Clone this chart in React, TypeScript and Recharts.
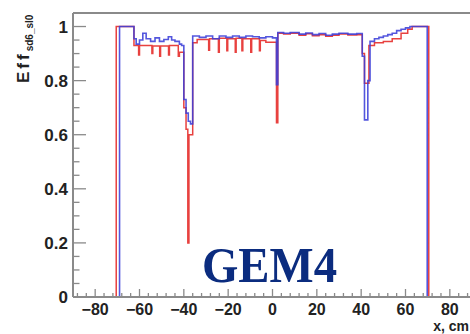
import { LineChart, Line, XAxis, YAxis, ReferenceLine, Customized } from 'recharts';

// bin edges (cm) and efficiencies, drawn as step histograms
const blueX = [
  -90, -69, -62.5, -61.5, -60, -58.5, -57, -55, -53, -51, -49, -47, -45.5, -44, -42, -41,
  -40, -39, -38, -37, -36, -33, -30, -27, -24, -21, -18, -15, -12, -9, -6, -3, 0,
  1.8, 2.4, 5, 8, 12, 15, 18, 21, 24, 27, 30, 34, 38,
  40.5, 41.5, 43, 44, 46, 48, 50, 52, 54, 56, 58, 60, 62, 69.8, 90,
];
const blueEff = [
  0, 1.0, 0.955, 0.935, 0.95, 0.975, 0.955, 0.945, 0.958, 0.945, 0.952, 0.962, 0.95, 0.945, 0.935, 0.93,
  0.73, 0.68, 0.65, 0.64, 0.965, 0.96, 0.965, 0.955, 0.965, 0.96, 0.965, 0.96, 0.965, 0.962, 0.958, 0.962, 0.958,
  0.785, 0.978, 0.975, 0.978, 0.972, 0.976, 0.97, 0.974, 0.968, 0.972, 0.975, 0.972, 0.974,
  0.89, 0.655, 0.8, 0.945, 0.955, 0.96, 0.965, 0.97, 0.975, 0.985, 0.99, 0.995, 1.0, 0, 0,
];

const redX = [
  -90, -70.5, -62.5, -60.4, -60, -54.4, -54, -50.9, -50.5, -46.9, -46.5, -42.5, -42,
  -40, -39, -38.2, -37.7, -36, -34, -28.8, -28.4, -24.4, -24, -20.6, -20.2, -16.8, -16.4,
  -13.8, -13.4, -9.8, -9.4, -5.9, -5.5, -3,
  1.8, 2.4, 5, 8, 12, 15, 18, 21, 24, 27, 30, 34, 38,
  40.5, 41.5, 43.5, 46, 50, 54, 58, 61, 63, 70.5, 90,
];
const redEff = [
  0, 1.0, 0.93, 0.895, 0.93, 0.9, 0.928, 0.89, 0.928, 0.895, 0.93, 0.89, 0.905,
  0.7, 0.62, 0.2, 0.6, 0.94, 0.952, 0.912, 0.955, 0.905, 0.957, 0.91, 0.955, 0.905, 0.957,
  0.91, 0.955, 0.905, 0.955, 0.91, 0.948, 0.942,
  0.644, 0.975, 0.972, 0.975, 0.968, 0.973, 0.966, 0.97, 0.964, 0.968, 0.972, 0.969, 0.97,
  0.9, 0.79, 0.93, 0.94, 0.945, 0.955, 0.975, 0.99, 1.0, 0, 0,
];

const xMajor = [-80, -60, -40, -20, 0, 20, 40, 60, 80];
const xTicks = [
  -88, -84, -80, -76, -72, -68, -64, -60, -56, -52, -48, -44, -40, -36, -32, -28, -24, -20, -16, -12, -8, -4,
  0, 4, 8, 12, 16, 20, 24, 28, 32, 36, 40, 44, 48, 52, 56, 60, 64, 68, 72, 76, 80, 84, 88,
];
const yMajor = [0, 0.2, 0.4, 0.6, 0.8, 1];
const yTicks = [
  0, 0.05, 0.1, 0.15, 0.2, 0.25, 0.3, 0.35, 0.4, 0.45, 0.5, 0.55, 0.6, 0.65, 0.7, 0.75, 0.8, 0.85, 0.9, 0.95, 1,
];

const blueData = blueX.map((x, i) => ({ x, eff: blueEff[i] }));
const redData = redX.map((x, i) => ({ x, eff: redEff[i] }));

const AXIS = '#8a8a8a';
const LABEL = '#222';
const SANS = '"Liberation Sans", Arial, sans-serif';

const fmt = (v: number) => (v < 0 ? '\u2212' + Math.abs(v) : String(v));

function XTick(props: any) {
  const { x, y, payload } = props;
  const major = xMajor.includes(payload.value);
  return (
    <g>
      <line x1={x} x2={x} y1={y} y2={y - (major ? 8 : 4)} stroke={AXIS} strokeWidth={1.3} />
      {major && (
        <text x={x} y={y + 17.5} textAnchor="middle" fontFamily={SANS} fontWeight="bold" fontSize={16} fill={LABEL}>
          {fmt(payload.value)}
        </text>
      )}
    </g>
  );
}

function YTick(props: any) {
  const { x, y, payload } = props;
  const major = yMajor.includes(payload.value);
  return (
    <g>
      <line x1={x} x2={x + (major ? 13 : 6.5)} y1={y} y2={y} stroke={AXIS} strokeWidth={1.3} />
      {major && (
        <text x={x - 5} y={y + 6} textAnchor="end" fontFamily={SANS} fontWeight="bold" fontSize={17} fill={LABEL}>
          {String(payload.value)}
        </text>
      )}
    </g>
  );
}

function Titles() {
  return (
    <g>
      <text transform="translate(29,83) rotate(-90)" fontFamily={SANS} fontWeight="bold" fill={LABEL}>
        <tspan fontSize={17} letterSpacing={3}>Eff</tspan>
        <tspan fontSize={10} dy={4}>sd6_sl0</tspan>
      </text>
      <text x={469} y={331} textAnchor="end" fontFamily={SANS} fontWeight="bold" fontSize={14} fill={LABEL}>
        x, cm
      </text>
      <text
        x={202}
        y={282}
        fontFamily='"Liberation Serif", "Times New Roman", serif'
        fontWeight="bold"
        fontSize={50}
        fill="#0b2c7f"
        textLength={135}
        lengthAdjust="spacingAndGlyphs"
      >
        GEM4
      </text>
    </g>
  );
}

export default function App() {
  return (
    <div style={{ position: 'absolute', left: 0, top: 0, background: '#fff' }}>
      <LineChart width={470} height={334} margin={{ top: 13, right: -2, bottom: 0, left: 0 }}>
        <XAxis
          dataKey="x"
          type="number"
          domain={[-90, 90]}
          ticks={xTicks}
          interval={0}
          tickLine={false}
          tickSize={0}
          tickMargin={0}
          tick={<XTick />}
          height={37}
          axisLine={{ stroke: AXIS, strokeWidth: 2 }}
        />
        <YAxis
          type="number"
          domain={[0, 1.05]}
          ticks={yTicks}
          interval={0}
          tickLine={false}
          tickSize={0}
          tickMargin={0}
          tick={<YTick />}
          width={73}
          axisLine={{ stroke: AXIS, strokeWidth: 2 }}
        />
        <ReferenceLine y={1.05} stroke={AXIS} strokeWidth={2} />
        <ReferenceLine x={90} stroke={AXIS} strokeWidth={2} />
        <Line
          data={redData}
          dataKey="eff"
          type="stepAfter"
          stroke="#e8413f"
          strokeWidth={1.5}
          dot={false}
          isAnimationActive={false}
        />
        <Line
          data={blueData}
          dataKey="eff"
          type="stepAfter"
          stroke="#3b3fd8"
          strokeOpacity={0.88}
          strokeWidth={1.6}
          dot={false}
          isAnimationActive={false}
        />
        <Customized component={Titles} />
      </LineChart>
    </div>
  );
}
